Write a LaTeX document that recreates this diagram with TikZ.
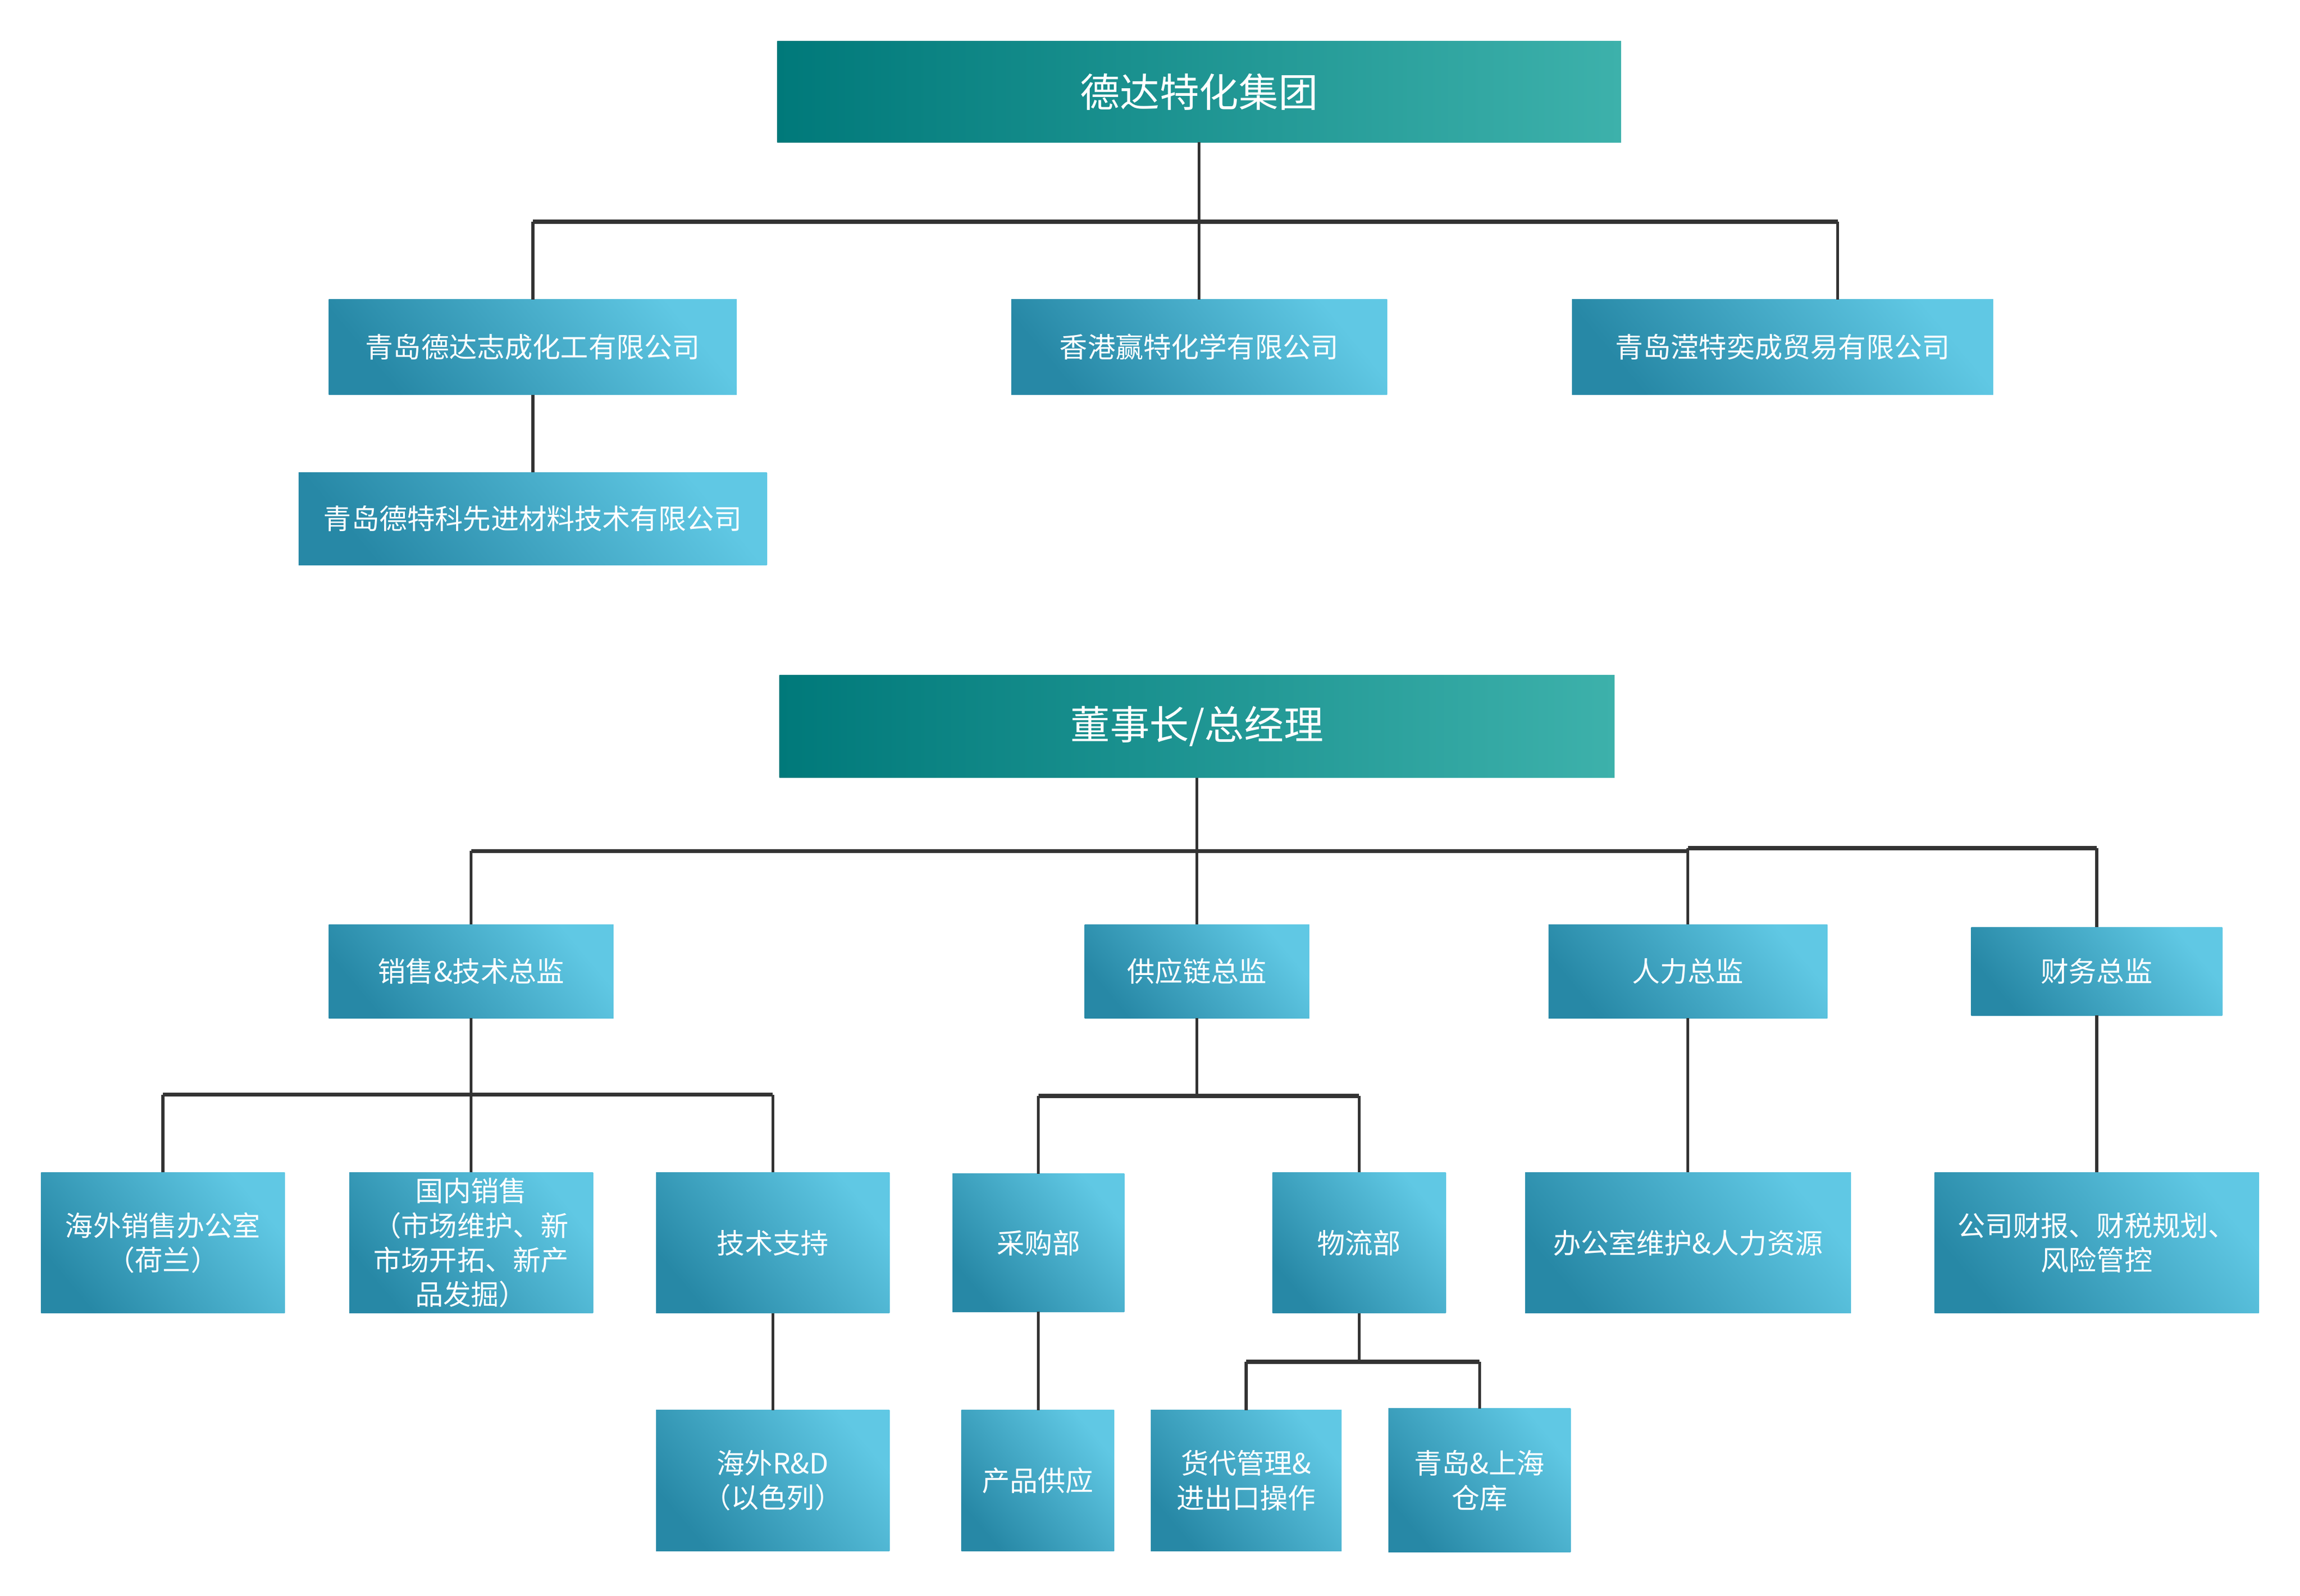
\documentclass[tikz,border=0pt]{standalone}
\usepackage{fontspec}
\newfontfamily\cjkfont{Noto Sans CJK SC}
\definecolor{tealdark}{HTML}{00797A}
\definecolor{teallight}{HTML}{3DB1AB}
\definecolor{bluedark}{HTML}{2788A6}
\definecolor{bluelight}{HTML}{60C8E4}
\definecolor{linegray}{HTML}{333333}
\tikzset{
  boxbase/.style={inner sep=0pt, outer sep=0pt, text=white, align=center, rectangle},
  titlebox/.style={boxbase, left color=tealdark, right color=teallight,
    font=\cjkfont\fontsize{27}{32}\selectfont},
  bluebox/.style={boxbase, bottom color=bluedark, top color=bluelight, shading angle=-50,
    font=\cjkfont\fontsize{19}{23.5}\selectfont},
  conn/.style={draw=linegray, line width=2pt},
  busline/.style={draw=linegray, line width=2.8pt},
}
\begin{document}
\begin{tikzpicture}[x=1pt, y=-1pt]
\useasboundingbox[fill=white] (0,0) rectangle (1567,1087.4);

% ---------- top group ----------
\node[titlebox, minimum width=575pt, minimum height=69pt] (g) at (817,62.5) {德达特化集团};
\node[bluebox, minimum width=278pt, minimum height=65pt] (c1) at (363,236.5) {青岛德达志成化工有限公司};
\node[bluebox, minimum width=256pt, minimum height=65pt] (c2) at (817,236.5) {香港赢特化学有限公司};
\node[bluebox, minimum width=287pt, minimum height=65pt] (c3) at (1214.5,236.5) {青岛滢特奕成贸易有限公司};
\node[bluebox, minimum width=319pt, minimum height=63pt] (c4) at (363,353.5) {青岛德特科先进材料技术有限公司};

\coordinate (b1) at (817,151);
\coordinate (x3) at (1252,151);
\draw[conn] (g.south) -- (b1);
\draw[busline] (c1.north |- b1) -- (x3);
\draw[conn] (c1.north |- b1) -- (c1.north);
\draw[conn] (b1) -- (c2.north);
\draw[conn] (x3) -- (x3 |- c3.north);
\draw[conn] (c1.south) -- (c4.north);

% ---------- management ----------
\node[titlebox, minimum width=569pt, minimum height=70pt] (ceo) at (815.5,495) {董事长/总经理};
\node[bluebox, minimum width=194pt, minimum height=64pt] (d1) at (321,662) {销售\&技术总监};
\node[bluebox, minimum width=153pt, minimum height=64pt] (d2) at (815.5,662) {供应链总监};
\node[bluebox, minimum width=190pt, minimum height=64pt] (d3) at (1150,662) {人力总监};
\node[bluebox, minimum width=171pt, minimum height=60pt] (d4) at (1428.5,662) {财务总监};

\coordinate (b2) at (815.5,580);
\coordinate (b2r) at (1150,578);
\draw[conn] (ceo.south) -- (b2);
\draw[busline] (d1.north |- b2) -- (d3.north |- b2);
\draw[busline] (b2r) -- (d4.north |- b2r);
\draw[conn] (d1.north |- b2) -- (d1.north);
\draw[conn] (b2) -- (d2.north);
\draw[conn] (d3.north |- b2r) -- (d3.north);
\draw[conn] (d4.north |- b2r) -- (d4.north);

% ---------- level 3 ----------
\node[bluebox, minimum width=166pt, minimum height=96pt] (e1) at (111,847) {海外销售办公室\\（荷兰）};
\node[bluebox, minimum width=166pt, minimum height=96pt] (e2) at (321,847) {国内销售\\（市场维护、新\\市场开拓、新产\\品发掘）};
\node[bluebox, minimum width=159pt, minimum height=96pt] (e3) at (526.5,847) {技术支持};
\node[bluebox, minimum width=117pt, minimum height=94pt] (e4) at (707.5,847) {采购部};
\node[bluebox, minimum width=118pt, minimum height=96pt] (e5) at (926,847) {物流部};
\node[bluebox, minimum width=222pt, minimum height=96pt] (e6) at (1150,847) {办公室维护\&人力资源};
\node[bluebox, minimum width=221pt, minimum height=96pt] (e7) at (1428.5,847) {公司财报、财税规划、\\风险管控};

\coordinate (b3) at (321,746);
\draw[conn] (d1.south) -- (b3);
\draw[busline] (e1.north |- b3) -- (e3.north |- b3);
\draw[conn] (e1.north |- b3) -- (e1.north);
\draw[conn] (b3) -- (e2.north);
\draw[conn] (e3.north |- b3) -- (e3.north);

\coordinate (b4) at (815.5,747);
\draw[conn] (d2.south) -- (b4);
\draw[busline] (e4.north |- b4) -- (e5.north |- b4);
\draw[conn] (e4.north |- b4) -- (e4.north);
\draw[conn] (e5.north |- b4) -- (e5.north);

\draw[conn] (d3.south) -- (e6.north);
\draw[conn] (d4.south) -- (e7.north);

% ---------- level 4 ----------
\node[bluebox, minimum width=159pt, minimum height=96pt] (f1) at (526.5,1009) {海外R\&D\\（以色列）};
\node[bluebox, minimum width=104pt, minimum height=96pt] (f2) at (707,1009) {产品供应};
\node[bluebox, minimum width=130pt, minimum height=96pt] (f3) at (849,1009) {货代管理\&\\进出口操作};
\node[bluebox, minimum width=124pt, minimum height=98pt] (f4) at (1008,1009) {青岛\&上海\\仓库};

\draw[conn] (e3.south) -- (f1.north);
\draw[conn] (e4.south) -- (e4.south |- f2.north);

\coordinate (b5) at (926,928);
\draw[conn] (e5.south) -- (b5);
\draw[busline] (f3.north |- b5) -- (f4.north |- b5);
\draw[conn] (f3.north |- b5) -- (f3.north);
\draw[conn] (f4.north |- b5) -- (f4.north);
\end{tikzpicture}
\end{document}
